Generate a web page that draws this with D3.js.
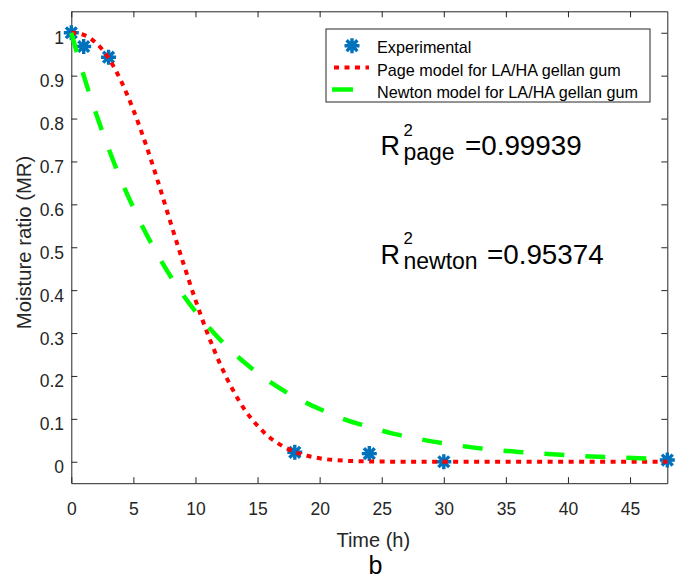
<!DOCTYPE html>
<html>
<head>
<meta charset="utf-8">
<script src="https://cdn.jsdelivr.net/npm/d3@7"></script>
<style>
  html, body { margin: 0; padding: 0; background: #fff; }
  svg { display: block; }
  text { font-family: "Liberation Sans", Arial, Helvetica, sans-serif; }
</style>
</head>
<body>
<svg id="chart" width="675" height="579"></svg>
<script>
// ---- data ----
const tExp  = [0, 1, 3, 18, 24, 30, 48];
const mrExp = [1.0, 0.968, 0.943, 0.022, 0.019, 0.0, 0.004];

const tPage  = [0, 1, 2, 3, 4, 5, 6, 7, 8, 9, 10, 11, 12, 13, 14, 15, 16, 17, 18, 19, 20, 22, 24, 26, 28, 30, 35, 40, 45, 48];
const mrPage = [1, 0.995, 0.976, 0.941, 0.888, 0.820, 0.740, 0.651, 0.557, 0.465, 0.377, 0.297, 0.227, 0.168, 0.120, 0.084, 0.056, 0.037, 0.023, 0.014, 0.008, 0.0025, 0.0007, 0.0002, 0, 0, 0, 0, 0, 0];

const tNewton  = [0, 1, 2, 3, 4, 5, 6, 7, 8, 9, 10, 12, 14, 16, 18, 20, 22, 24, 26, 28, 30, 33, 36, 40, 44, 48];
const mrNewton = [1, 0.900, 0.811, 0.730, 0.657, 0.592, 0.533, 0.480, 0.432, 0.389, 0.350, 0.284, 0.230, 0.186, 0.151, 0.123, 0.099, 0.081, 0.065, 0.053, 0.043, 0.031, 0.023, 0.015, 0.010, 0.0065];

const xTicks = [0, 5, 10, 15, 20, 25, 30, 35, 40, 45];
const yTicks = [0, 0.1, 0.2, 0.3, 0.4, 0.5, 0.6, 0.7, 0.8, 0.9, 1];
const yTickLabels = ["0", "0.1", "0.2", "0.3", "0.4", "0.5", "0.6", "0.7", "0.8", "0.9", "1"];

const seriesNames = ["Experimental", "Page model for LA/HA gellan gum", "Newton model for LA/HA gellan gum"];
const xLabel = "Time (h)";
const yLabel = "Moisture ratio (MR)";
const panelLabel = "b";
const r2Page = "=0.99939";
const r2Newton = "=0.95374";

// ---- layout ----
const svg = d3.select("#chart");
const L = 71.3, R = 667.3, T = 11.3, B = 483.2;
const x = d3.scaleLinear().domain([0, 48]).range([L, R]);
const y = d3.scaleLinear().domain([-0.05, 1.05]).range([B, T]);
const axisColor = "#262626";

// axes
const gB = svg.append("g").attr("transform", `translate(0,${B})`)
  .call(d3.axisBottom(x).tickValues(xTicks).tickFormat(d3.format("d")).tickSizeInner(-6).tickSizeOuter(0).tickPadding(19));
const gT = svg.append("g").attr("transform", `translate(0,${T})`)
  .call(d3.axisTop(x).tickValues(xTicks).tickFormat("").tickSizeInner(-6).tickSizeOuter(0));
const gL = svg.append("g").attr("transform", `translate(${L},0)`)
  .call(d3.axisLeft(y).tickValues(yTicks).tickFormat((d, i) => yTickLabels[i]).tickSizeInner(-6).tickSizeOuter(0).tickPadding(7.3));
const gR = svg.append("g").attr("transform", `translate(${R},0)`)
  .call(d3.axisRight(y).tickValues(yTicks).tickFormat("").tickSizeInner(-6).tickSizeOuter(0));

[gB, gT, gL, gR].forEach(g => {
  g.select(".domain").attr("stroke", axisColor).attr("stroke-width", 1);
  g.selectAll(".tick line").attr("stroke", axisColor).attr("stroke-width", 1);
  g.selectAll(".tick text").attr("fill", axisColor)
    .style("font-family", '"Liberation Sans", Arial, sans-serif').style("font-size", "17.5px");
});
gL.selectAll(".tick text").attr("dy", "0.63em");

// marker (MATLAB-style asterisk)
const mr = 7.5, md = mr * 0.72;
const starPath = `M${-mr},0L${mr},0M0,${-mr}L0,${mr}M${-md},${-md}L${md},${md}M${-md},${md}L${md},${-md}`;
const markerColor = "#0072BD";

svg.append("g").selectAll("path").data(tExp).join("path")
  .attr("d", starPath)
  .attr("transform", (d, i) => `translate(${x(d)},${y(mrExp[i])})`)
  .attr("fill", "none").attr("stroke", markerColor).attr("stroke-width", 3.4);

// curves
const line = d3.line().x(d => x(d[0])).y(d => y(d[1])).curve(d3.curveMonotoneX);
svg.append("path")
  .datum(tPage.map((t, i) => [t, mrPage[i]]))
  .attr("d", line).attr("fill", "none")
  .attr("stroke", "#ff0000").attr("stroke-width", 4).attr("stroke-dasharray", "5,5.5");
svg.append("path")
  .datum(tNewton.map((t, i) => [t, mrNewton[i]]))
  .attr("d", line).attr("fill", "none")
  .attr("stroke", "#00ff00").attr("stroke-width", 4.5).attr("stroke-dasharray", "20,21");

// legend
const lg = svg.append("g");
lg.append("rect").attr("x", 326).attr("y", 29).attr("width", 324).attr("height", 73)
  .attr("fill", "#fff").attr("stroke", axisColor).attr("stroke-width", 1);
lg.append("path").attr("d", starPath).attr("transform", "translate(352,45.7)")
  .attr("fill", "none").attr("stroke", markerColor).attr("stroke-width", 3.4);
lg.append("line").attr("x1", 334).attr("x2", 369).attr("y1", 67.5).attr("y2", 67.5)
  .attr("stroke", "#ff0000").attr("stroke-width", 4).attr("stroke-dasharray", "5,5.5");
lg.append("line").attr("x1", 332).attr("x2", 369).attr("y1", 89.5).attr("y2", 89.5)
  .attr("stroke", "#00ff00").attr("stroke-width", 4.5).attr("stroke-dasharray", "21,21");
const legBase = [53.3, 76, 98.4];
lg.selectAll("text.leg").data(seriesNames).join("text").attr("class", "leg")
  .attr("x", 377).attr("y", (d, i) => legBase[i])
  .attr("fill", "#000").style("font-size", "16.2px").text(d => d);

// R^2 annotations
function r2(baseY, sub, val, valX) {
  const g = svg.append("g").attr("fill", "#000");
  g.append("text").attr("x", 380.5).attr("y", baseY).style("font-size", "27px").text("R");
  g.append("text").attr("x", 403.5).attr("y", baseY - 19.5).style("font-size", "16.8px").text("2");
  g.append("text").attr("x", 403.5).attr("y", baseY + 5).style("font-size", "23px").text(sub);
  g.append("text").attr("x", valX).attr("y", baseY).style("font-size", "27.8px").text(val);
}
r2(155.3, "page", r2Page, 465);
r2(263.6, "newton", r2Newton, 487);

// axis labels
svg.append("text").attr("x", 373.3).attr("y", 546.5).attr("text-anchor", "middle")
  .attr("fill", axisColor).style("font-size", "20px").text(xLabel);
svg.append("text").attr("transform", "translate(31,242.5) rotate(-90)").attr("text-anchor", "middle")
  .attr("fill", axisColor).style("font-size", "20.3px").text(yLabel);
svg.append("text").attr("x", 375.5).attr("y", 573.5).attr("text-anchor", "middle")
  .attr("fill", "#000").style("font-size", "25px").text(panelLabel);
</script>
</body>
</html>
